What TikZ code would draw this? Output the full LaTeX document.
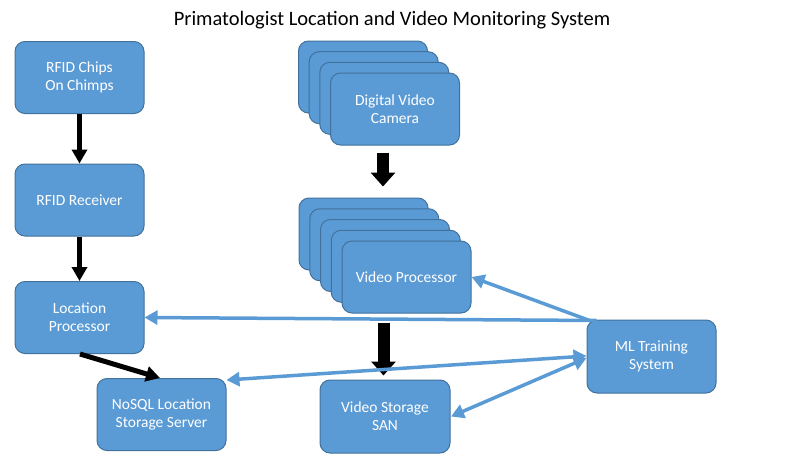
\documentclass[tikz,border=0pt]{standalone}
\usepackage{fontspec}
\setmainfont{Carlito}
\usetikzlibrary{arrows.meta}
\definecolor{boxfill}{HTML}{5B9BD5}
\definecolor{boxline}{HTML}{41719C}
\definecolor{bluearrow}{HTML}{5B9BD5}
\tikzset{
  box/.style={draw=boxline, fill=boxfill, line width=1pt, rounded corners=10pt,
    minimum width=129pt, minimum height=72pt, inner sep=0pt, align=center,
    text=white, font=\fontsize{15.5}{18}\selectfont},
  blackarrow/.style={draw=black, line width=5pt, -{Triangle[length=14pt,width=15pt]}},
  blockarrow/.style={draw=black, line width=12pt, -{Triangle[length=14pt,width=24pt]}},
  bluearr/.style={draw=bluearrow, line width=3.5pt, -{Triangle[length=13pt,width=14pt]}},
  bluebi/.style={draw=bluearrow, line width=3.5pt, {Triangle[length=13pt,width=14pt]}-{Triangle[length=13pt,width=14pt]}},
}
\begin{document}
\begin{tikzpicture}[x=1pt,y=-1pt]
\useasboundingbox (0,0) rectangle (788,458);
\node (title) at (392,20) {\fontsize{20.5}{24}\selectfont Primatologist Location and Video Monitoring System};

% left column
\node[box] (chips) at (79.5,77.5) {RFID Chips\\On Chimps};
\node[box] (recv) at (79.5,200) {RFID Receiver};
\node[box] (loc) at (79.5,317.5) {Location\\Processor};
\node[box] (nosql) at (161.5,414.5) {NoSQL Location\\Storage Server};

% camera stack
\node[box] (cam1) at (363,77) {};
\node[box] (cam2) at (373.7,87.7) {};
\node[box] (cam3) at (384.3,98.3) {};
\node[box] (cam) at (395,109) {Digital Video\\Camera};

% video processor stack
\node[box] (vp1) at (363.5,234) {};
\node[box] (vp2) at (374.25,244.75) {};
\node[box] (vp3) at (385,255.5) {};
\node[box] (vp4) at (395.75,266.25) {};
\node[box] (vp) at (406.5,277) {Video Processor};

\node[box, minimum width=130pt, minimum height=73pt] (san) at (385,416.5) {Video Storage\\SAN};
\node[box, minimum height=73pt] (ml) at (651.5,356.5) {ML Training\\System};

% black arrows
\draw[blackarrow] (chips.south) -- (recv.north);
\draw[blackarrow] (recv.south) -- (loc.north);
\draw[blackarrow] ([xshift=0.5pt]loc.south) -- ([xshift=-1.5pt]nosql.north);
\draw[blockarrow] ([xshift=-12pt,yshift=-7pt]cam.south) -- ([xshift=19.5pt,yshift=11pt]vp1.north);
\draw[blockarrow] ([xshift=-23pt,yshift=-9pt]vp.south) -- ([xshift=-1.5pt,yshift=4pt]san.north);

% blue arrows
\draw[bluearr] ([xshift=10pt,yshift=-1pt]ml.north west) -- (loc.east);
\draw[bluearr] ([xshift=3pt,yshift=-1pt]ml.north west) -- (vp.east);
\draw[bluebi] ([yshift=-2pt]nosql.north east) -- ([yshift=0.5pt]ml.west);
\draw[bluebi] ([xshift=0.5pt]san.east) -- ([yshift=-1.5pt]ml.west);
\end{tikzpicture}
\end{document}
